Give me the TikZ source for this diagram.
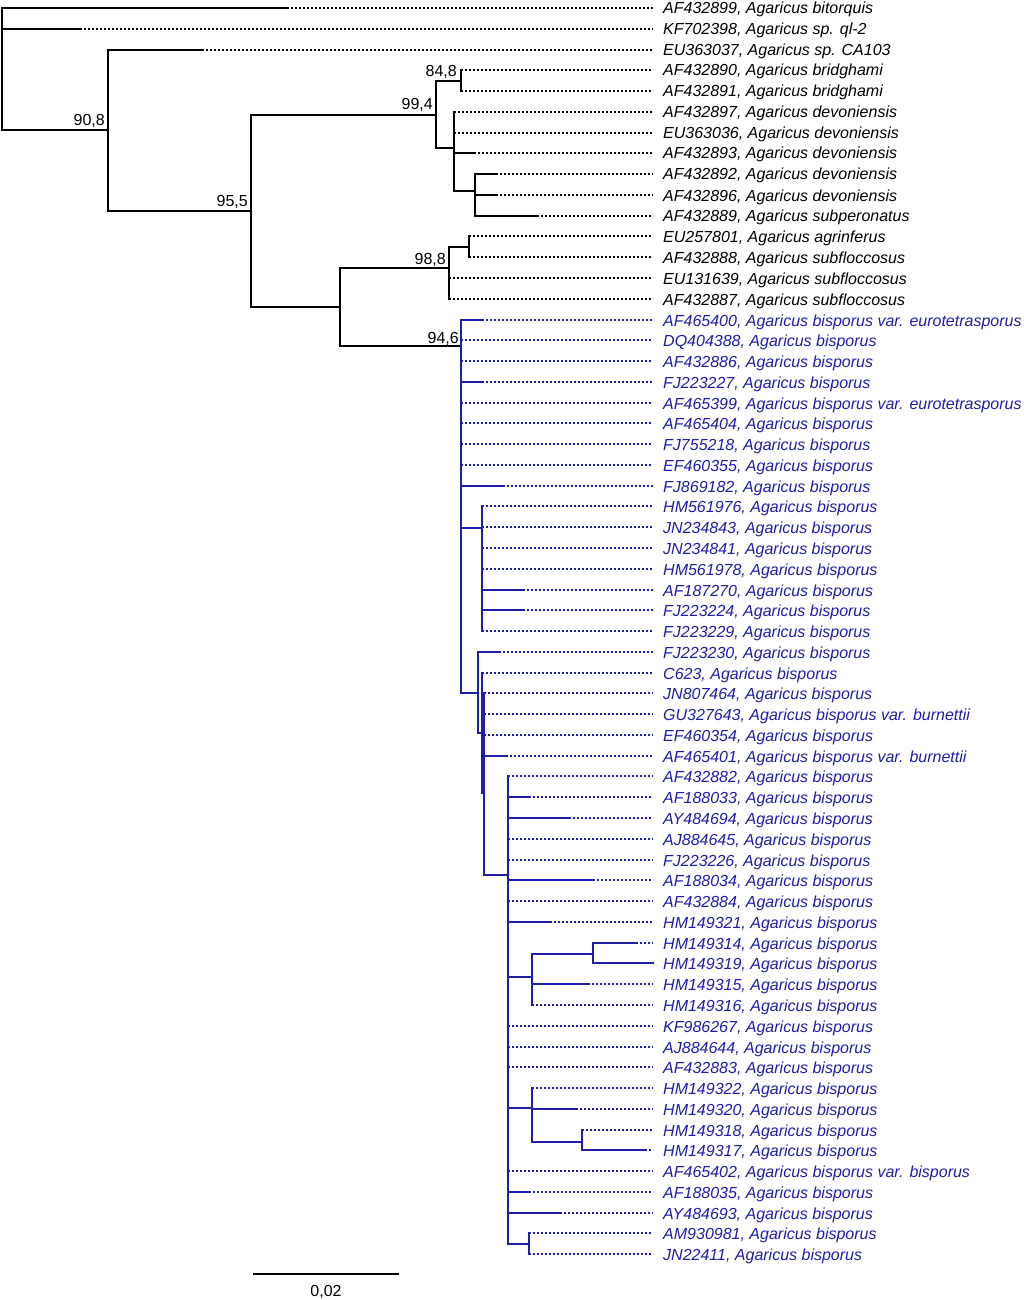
\documentclass[tikz,border=0pt]{standalone}
\usepackage{fontspec}
\setmainfont{Liberation Sans}
\definecolor{bl}{RGB}{30,30,170}
\tikzset{
 br/.style={line width=2pt, line cap=rect},
 dotline/.style={line width=2pt, dash pattern=on 2pt off 2pt},
 lab/.style={anchor=base west, inner sep=0pt, font=\fontsize{16}{19}\selectfont\itshape},
 boot/.style={anchor=base east, inner sep=0pt, font=\fontsize{16}{19}\selectfont},
}
\newcommand{\leafrow}[5]{%
 \pgfmathsetmacro{\yy}{round(8+(#1-1)*20.77)}%
 \pgfmathsetmacro{\yb}{\yy+6}%
 \coordinate (p#1) at (#2,\yy);
 \coordinate (t#1) at (#3,\yy);
 \coordinate (e#1) at (653,\yy);
 \draw[br,#4] (p#1) -- (t#1);
 \draw[dotline,#4] (t#1) -- (e#1);
 \node[lab,text=#4] (n#1) at (663,\yb) {#5};
}
\begin{document}
\begin{tikzpicture}[x=1pt,y=-1pt]
\useasboundingbox (0,0) rectangle (1024,1300);
% leaves
\leafrow{1}{2}{287}{black}{AF432899, Agaricus bitorquis}
\leafrow{2}{2}{80}{black}{KF702398, Agaricus sp. ql-2}
\leafrow{3}{108}{202}{black}{EU363037, Agaricus sp. CA103}
\leafrow{4}{461}{461}{black}{AF432890, Agaricus bridghami}
\leafrow{5}{461}{461}{black}{AF432891, Agaricus bridghami}
\leafrow{6}{454}{454}{black}{AF432897, Agaricus devoniensis}
\leafrow{7}{454}{454}{black}{EU363036, Agaricus devoniensis}
\leafrow{8}{454}{474}{black}{AF432893, Agaricus devoniensis}
\leafrow{9}{475}{496}{black}{AF432892, Agaricus devoniensis}
\leafrow{10}{475}{496}{black}{AF432896, Agaricus devoniensis}
\leafrow{11}{475}{537}{black}{AF432889, Agaricus subperonatus}
\leafrow{12}{469}{469}{black}{EU257801, Agaricus agrinferus}
\leafrow{13}{469}{469}{black}{AF432888, Agaricus subfloccosus}
\leafrow{14}{449}{449}{black}{EU131639, Agaricus subfloccosus}
\leafrow{15}{449}{449}{black}{AF432887, Agaricus subfloccosus}
\leafrow{16}{461}{482}{bl}{AF465400, Agaricus bisporus var. eurotetrasporus}
\leafrow{17}{461}{461}{bl}{DQ404388, Agaricus bisporus}
\leafrow{18}{461}{461}{bl}{AF432886, Agaricus bisporus}
\leafrow{19}{461}{482}{bl}{FJ223227, Agaricus bisporus}
\leafrow{20}{461}{461}{bl}{AF465399, Agaricus bisporus var. eurotetrasporus}
\leafrow{21}{461}{461}{bl}{AF465404, Agaricus bisporus}
\leafrow{22}{461}{461}{bl}{FJ755218, Agaricus bisporus}
\leafrow{23}{461}{461}{bl}{EF460355, Agaricus bisporus}
\leafrow{24}{461}{503}{bl}{FJ869182, Agaricus bisporus}
\leafrow{25}{482}{482}{bl}{HM561976, Agaricus bisporus}
\leafrow{26}{482}{482}{bl}{JN234843, Agaricus bisporus}
\leafrow{27}{482}{482}{bl}{JN234841, Agaricus bisporus}
\leafrow{28}{482}{482}{bl}{HM561978, Agaricus bisporus}
\leafrow{29}{482}{523}{bl}{AF187270, Agaricus bisporus}
\leafrow{30}{482}{523}{bl}{FJ223224, Agaricus bisporus}
\leafrow{31}{482}{482}{bl}{FJ223229, Agaricus bisporus}
\leafrow{32}{478}{499}{bl}{FJ223230, Agaricus bisporus}
\leafrow{33}{482}{482}{bl}{C623, Agaricus bisporus}
\leafrow{34}{484}{484}{bl}{JN807464, Agaricus bisporus}
\leafrow{35}{484}{484}{bl}{GU327643, Agaricus bisporus var. burnettii}
\leafrow{36}{484}{484}{bl}{EF460354, Agaricus bisporus}
\leafrow{37}{484}{506}{bl}{AF465401, Agaricus bisporus var. burnettii}
\leafrow{38}{508}{508}{bl}{AF432882, Agaricus bisporus}
\leafrow{39}{508}{529}{bl}{AF188033, Agaricus bisporus}
\leafrow{40}{508}{569}{bl}{AY484694, Agaricus bisporus}
\leafrow{41}{508}{508}{bl}{AJ884645, Agaricus bisporus}
\leafrow{42}{508}{508}{bl}{FJ223226, Agaricus bisporus}
\leafrow{43}{508}{593}{bl}{AF188034, Agaricus bisporus}
\leafrow{44}{508}{508}{bl}{AF432884, Agaricus bisporus}
\leafrow{45}{508}{550}{bl}{HM149321, Agaricus bisporus}
\leafrow{46}{593}{636}{bl}{HM149314, Agaricus bisporus}
\leafrow{47}{593}{653}{bl}{HM149319, Agaricus bisporus}
\leafrow{48}{532}{588}{bl}{HM149315, Agaricus bisporus}
\leafrow{49}{532}{532}{bl}{HM149316, Agaricus bisporus}
\leafrow{50}{508}{508}{bl}{KF986267, Agaricus bisporus}
\leafrow{51}{508}{508}{bl}{AJ884644, Agaricus bisporus}
\leafrow{52}{508}{508}{bl}{AF432883, Agaricus bisporus}
\leafrow{53}{532}{532}{bl}{HM149322, Agaricus bisporus}
\leafrow{54}{532}{576}{bl}{HM149320, Agaricus bisporus}
\leafrow{55}{582}{582}{bl}{HM149318, Agaricus bisporus}
\leafrow{56}{582}{645}{bl}{HM149317, Agaricus bisporus}
\leafrow{57}{508}{508}{bl}{AF465402, Agaricus bisporus var. bisporus}
\leafrow{58}{508}{529}{bl}{AF188035, Agaricus bisporus}
\leafrow{59}{508}{560}{bl}{AY484693, Agaricus bisporus}
\leafrow{60}{529}{529}{bl}{AM930981, Agaricus bisporus}
\leafrow{61}{529}{529}{bl}{JN22411, Agaricus bisporus}
% internal node coordinates: start (at parent x) and node (at own x)
\coordinate (As) at (2,130);   \coordinate (A) at (108,130);
\coordinate (Bs) at (108,211); \coordinate (B) at (251,211);
\coordinate (Cs) at (251,115); \coordinate (C) at (436,115);
\coordinate (Ds) at (436,81);  \coordinate (D) at (461,81);
\coordinate (Es) at (436,148); \coordinate (E) at (454,148);
\coordinate (Fs) at (454,191); \coordinate (F) at (475,191);
\coordinate (Js) at (251,307); \coordinate (J) at (340,307);
\coordinate (Gs) at (340,268); \coordinate (G) at (449,268);
\coordinate (Hs) at (449,247); \coordinate (H) at (469,247);
\coordinate (Is) at (340,346); \coordinate (I) at (461,346);
\coordinate (Ks) at (461,528); \coordinate (K) at (482,528);
\coordinate (Ls) at (461,693); \coordinate (L) at (478,693);
\coordinate (Ms) at (478,733); \coordinate (M) at (482,733);
\coordinate (Ns) at (482,793); \coordinate (N) at (484,793);
\coordinate (Os) at (484,875); \coordinate (O) at (508,875);
\coordinate (Ps) at (508,977); \coordinate (P) at (532,977);
\coordinate (Qs) at (532,954); \coordinate (Q) at (593,954);
\coordinate (Rs) at (508,1108);\coordinate (R) at (532,1108);
\coordinate (Ss) at (532,1142);\coordinate (S) at (582,1142);
\coordinate (Ts) at (508,1244);\coordinate (T) at (529,1244);
% black part
\draw[br] (p1) -- (As);
\draw[br] (As) -- (A);  \draw[br] (p3) -- (Bs);
\draw[br] (Bs) -- (B);  \draw[br] (Cs) -- (Js);
\draw[br] (Cs) -- (C);  \draw[br] (Ds) -- (Es);
\draw[br] (Ds) -- (D);  \draw[br] (p4) -- (p5);
\draw[br] (Es) -- (E);  \draw[br] (p6) -- (Fs);
\draw[br] (Fs) -- (F);  \draw[br] (p9) -- (p11);
\draw[br] (Js) -- (J);  \draw[br] (Gs) -- (Is);
\draw[br] (Gs) -- (G);  \draw[br] (Hs) -- (p15);
\draw[br] (Hs) -- (H);  \draw[br] (p12) -- (p13);
\draw[br] (Is) -- (I);
% blue part
\begin{scope}[bl]
\draw[br] (p16) -- (Ls);
\draw[br] (Ks) -- (K);  \draw[br] (p25) -- (p31);
\draw[br] (Ls) -- (L);  \draw[br] (p32) -- (Ms);
\draw[br] (Ms) -- (M);  \draw[br] (p33) -- (Ns);
\draw[br] (Ns) -- (N);  \draw[br] (p34) -- (Os);
\draw[br] (Os) -- (O);  \draw[br] (p38) -- (Ts);
\draw[br] (Ps) -- (P);  \draw[br] (Qs) -- (p49);
\draw[br] (Qs) -- (Q);  \draw[br] (p46) -- (p47);
\draw[br] (Rs) -- (R);  \draw[br] (p53) -- (Ss);
\draw[br] (Ss) -- (S);  \draw[br] (p55) -- (p56);
\draw[br] (Ts) -- (T);  \draw[br] (p60) -- (p61);
\end{scope}
% bootstrap values
\node[boot] (bA) at (105,126) {90,8};
\node[boot] (bB) at (248,206) {95,5};
\node[boot] (bC) at (433,110) {99,4};
\node[boot] (bD) at (457,77) {84,8};
\node[boot] (bG) at (446,264) {98,8};
\node[boot] (bI) at (459,343) {94,6};
% scale bar
\coordinate (sb1) at (253,1274);
\coordinate (sb2) at (399,1274);
\draw[br,line cap=butt] (sb1) -- (sb2);
\node[anchor=base, inner sep=0pt, font=\fontsize{16}{19}\selectfont] (sbl) at (326,1296) {0,02};
\end{tikzpicture}
\end{document}
